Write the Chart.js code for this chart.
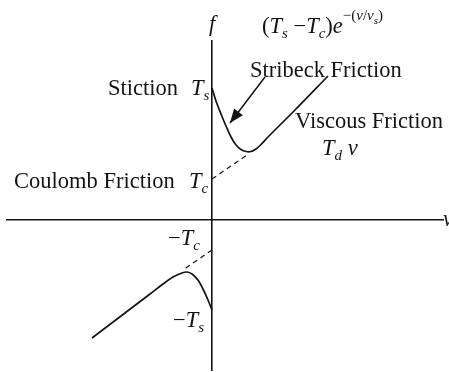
<!DOCTYPE html>
<html>
<head>
<meta charset="utf-8">
<script src="https://cdn.jsdelivr.net/npm/chart.js@4/dist/chart.umd.min.js"></script>
<style>
  html, body { margin: 0; padding: 0; background: #fff; }
  #wrap { width: 449px; height: 372px; }
</style>
</head>
<body>
<div id="wrap"><canvas id="chart"></canvas></div>
<script>
// friction vs. velocity, positive branch (stiction -> Stribeck dip -> viscous)
const posV = [0, 0.4, 0.9, 1.4, 1.9, 2.4, 2.9, 3.4, 3.9, 4.4, 4.9, 5.6, 8.3, 11.6];
const posF = [13.2, 11.9, 10.6, 9.4, 8.3, 7.5, 7.05, 6.85, 6.85, 7.1, 7.55, 8.3, 11.0, 14.4];

// negative branch, left to right
const negV = [-12.0, -6.2, -4.9, -3.9, -3.0, -2.5, -2.0, -1.4, -0.9, -0.4, 0];
const negF = [-11.8, -7.4, -6.4, -5.7, -5.3, -5.2, -5.4, -6.0, -6.9, -8.0, -9.0];

// Coulomb level extended to the curve (dashed)
const coulPosV = [0, 3.5];
const coulPosF = [4.1, 6.5];
const coulNegV = [0, -2.9];
const coulNegF = [-3.0, -5.0];

// pointer from the "Stribeck Friction" label down to the dip
const arrowV = [5.3, 1.8];
const arrowF = [14.3, 9.7];

const vRange = [-20.5, 23.1];
const fRange = [-15.0, 17.9];

const zip = (xs, ys) => xs.map((x, i) => ({ x: x, y: ys[i] }));

const SERIF = '"Liberation Serif", "Times New Roman", serif';
const INK = '#141414';

// text runs: [text, style] where style is n (roman), i (italic), sub/sup variants
const labels = [
  { at: [-0.3, 18.9], runs: [['f', 'i']] },
  { at: [5.0, 18.7], runs: [['(', 'n'], ['T', 'i'], ['s', 'isub'], [' \u2212', 'n'], ['T', 'i'], ['c', 'isub'], [')', 'n'], ['e', 'i'],
                           ['\u2212(', 'sup'], ['v', 'isup'], ['/', 'sup'], ['v', 'isup'], ['s', 'isupsub'], [')', 'sup']] },
  { at: [3.8, 14.3], runs: [['Stribeck Friction', 'n']] },
  { at: [-10.4, 12.5], runs: [['Stiction', 'n']] },
  { at: [-2.1, 12.5], runs: [['T', 'i'], ['s', 'isub']] },
  { at: [8.3, 9.2], runs: [['Viscous Friction', 'n']] },
  { at: [11.0, 6.5], runs: [['T', 'i'], ['d', 'isub'], [' v', 'i']] },
  { at: [-19.8, 3.2], runs: [['Coulomb Friction', 'n']] },
  { at: [-2.3, 3.2], runs: [['T', 'i'], ['c', 'isub']] },
  { at: [-4.4, -2.5], runs: [['\u2212', 'n'], ['T', 'i'], ['c', 'isub']] },
  { at: [-3.9, -10.7], runs: [['\u2212', 'n'], ['T', 'i'], ['s', 'isub']] },
  { at: [23.1, -0.6], runs: [['v', 'i']] }
];

const STYLES = {
  n:       { italic: false, size: 22.5, dy: 0 },
  i:       { italic: true,  size: 22.5, dy: 0 },
  isub:    { italic: true,  size: 15,   dy: 5 },
  sup:     { italic: false, size: 15,   dy: -13 },
  isup:    { italic: true,  size: 15,   dy: -13 },
  isupsub: { italic: true,  size: 11,   dy: -9 }
};

const textPlugin = {
  id: 'textLabels',
  afterDraw(chart) {
    const ctx = chart.ctx;
    const xs = chart.scales.x, ys = chart.scales.y;
    ctx.save();
    ctx.fillStyle = INK;
    ctx.textBaseline = 'alphabetic';
    ctx.textAlign = 'left';
    labels.forEach(l => {
      let x = xs.getPixelForValue(l.at[0]);
      const y = ys.getPixelForValue(l.at[1]);
      l.runs.forEach(([t, s]) => {
        const st = STYLES[s];
        ctx.font = (st.italic ? 'italic ' : '') + st.size + 'px ' + SERIF;
        ctx.fillText(t, x, y + st.dy);
        x += ctx.measureText(t).width;
      });
    });

    // arrowhead at the end of the pointer line
    const pts = chart.getDatasetMeta(4).data;
    const a = pts[0], b = pts[1];
    const ang = Math.atan2(b.y - a.y, b.x - a.x);
    const len = 14, half = 5.5;
    ctx.beginPath();
    ctx.moveTo(b.x, b.y);
    ctx.lineTo(b.x - len * Math.cos(ang) + half * Math.sin(ang), b.y - len * Math.sin(ang) - half * Math.cos(ang));
    ctx.lineTo(b.x - len * Math.cos(ang) - half * Math.sin(ang), b.y - len * Math.sin(ang) + half * Math.cos(ang));
    ctx.closePath();
    ctx.fill();
    ctx.restore();
  }
};

const line = (data, extra) => Object.assign({
  data: data,
  showLine: true,
  borderColor: INK,
  borderWidth: 1.7,
  pointRadius: 0,
  tension: 0,
  fill: false
}, extra);

new Chart(document.getElementById('chart'), {
  type: 'scatter',
  data: {
    datasets: [
      line(zip(posV, posF), { tension: 0.35 }),
      line(zip(negV, negF), { tension: 0.35 }),
      line(zip(coulPosV, coulPosF), { borderWidth: 1.2, borderDash: [5, 4] }),
      line(zip(coulNegV, coulNegF), { borderWidth: 1.2, borderDash: [5, 4] }),
      line(zip(arrowV, arrowF), { borderWidth: 1.5 })
    ]
  },
  options: {
    responsive: true,
    maintainAspectRatio: false,
    animation: false,
    layout: { padding: { left: 7, right: 6, top: 41, bottom: 2 } },
    plugins: { legend: { display: false }, tooltip: { enabled: false } },
    scales: {
      x: {
        type: 'linear', min: vRange[0], max: vRange[1],
        position: { y: 0 },
        ticks: { display: false },
        grid: { display: false, drawTicks: false },
        border: { display: true, color: INK, width: 1.6 }
      },
      y: {
        type: 'linear', min: fRange[0], max: fRange[1],
        position: { x: 0 },
        ticks: { display: false },
        grid: { display: false, drawTicks: false },
        border: { display: true, color: INK, width: 1.6 }
      }
    }
  },
  plugins: [textPlugin]
});
</script>
</body>
</html>
